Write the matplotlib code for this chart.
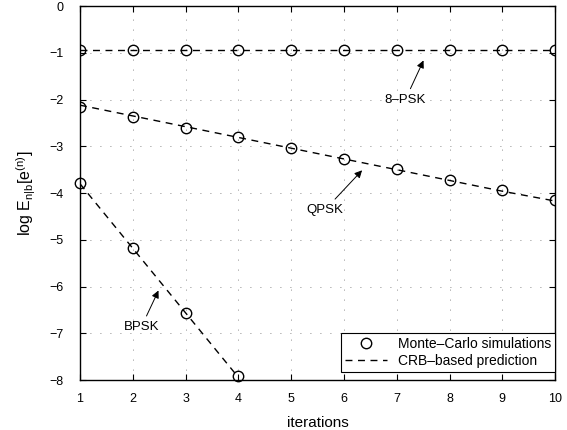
import numpy as np
import matplotlib.pyplot as plt

plt.rcParams['font.family'] = ['Liberation Sans', 'DejaVu Sans']
plt.rcParams['mathtext.fontset'] = 'custom'
plt.rcParams['mathtext.rm'] = 'Liberation Sans'
plt.rcParams['mathtext.it'] = 'Liberation Sans'

# iterations
it_long = [1, 2, 3, 4, 5, 6, 7, 8, 9, 10]
it_bpsk = [1, 2, 3, 4]

# Monte-Carlo simulations (log error)
sim_8psk = [-0.95, -0.95, -0.95, -0.95, -0.95, -0.95, -0.95, -0.95, -0.95, -0.95]
sim_qpsk = [-2.15, -2.38, -2.60, -2.81, -3.04, -3.28, -3.49, -3.72, -3.94, -4.15]
sim_bpsk = [-3.79, -5.18, -6.56, -7.92]

# CRB-based prediction
crb_8psk = [-0.95, -0.95, -0.95, -0.95, -0.95, -0.95, -0.95, -0.95, -0.95, -0.95]
crb_qpsk = [-2.12, -2.35, -2.58, -2.81, -3.04, -3.27, -3.50, -3.73, -3.96, -4.17]
crb_bpsk = [-3.80, -5.18, -6.56, -7.94]

fig = plt.figure(figsize=(5.67, 4.3), dpi=100)
ax = fig.add_axes([0.141, 0.116, 0.838, 0.870])

dash = dict(color='black', lw=1.0, dashes=(5, 4))
mark = dict(ls='none', marker='o', ms=7.5, mfc='none', mec='black', mew=1.0)

ax.plot(it_long, crb_8psk, **dash)
ax.plot(it_long, crb_qpsk, **dash)
ax.plot(it_bpsk, crb_bpsk, **dash)
ax.plot(it_long, sim_8psk, **mark)
ax.plot(it_long, sim_qpsk, **mark)
ax.plot(it_bpsk, sim_bpsk, **mark, clip_on=False)

# legend proxies
h1, = ax.plot([], [], **mark)
h2, = ax.plot([], [], **dash)
leg = ax.legend([h1, h2], ['Monte\u2013Carlo simulations', 'CRB\u2013based prediction'],
                loc='lower right', bbox_to_anchor=(1.0, 0.022), fontsize=10,
                fancybox=False, framealpha=1, edgecolor='black', borderpad=0.3,
                handlelength=3, labelspacing=0.2, borderaxespad=0)
leg.get_frame().set_linewidth(0.8)

arrow = dict(arrowstyle='-|>', color='black', lw=0.7, mutation_scale=11)
ax.annotate('8\u2013PSK', xy=(7.53, -1.11), xytext=(7.16, -2.01),
            ha='center', va='center', fontsize=9.5, arrowprops=arrow)
ax.annotate('QPSK', xy=(6.38, -3.47), xytext=(5.64, -4.36),
            ha='center', va='center', fontsize=9.5, arrowprops=arrow)
ax.annotate('BPSK', xy=(2.51, -6.03), xytext=(2.16, -6.87),
            ha='center', va='center', fontsize=9.5, arrowprops=arrow)

ax.set_xlim(1, 10)
ax.set_ylim(-8, 0)
ax.set_xticks(range(1, 11))
ax.set_yticks(range(-8, 1))
ax.set_yticklabels(['\u22128', '\u22127', '\u22126', '\u22125', '\u22124',
                    '\u22123', '\u22122', '\u22121', '0'])
ax.tick_params(direction='in', top=True, right=True, length=4, labelsize=9)
ax.tick_params(axis='x', pad=9)
ax.tick_params(axis='y', pad=12)
ax.grid(True, color='0.4', lw=0.6, dashes=(1, 11))
for s in ax.spines.values():
    s.set_linewidth(1.0)

ax.set_xlabel('iterations', fontsize=11, labelpad=8)
ax.set_ylabel(r'log E$_{n|b}$[e$^{(n)}$]', fontsize=11.5, labelpad=8)

fig.savefig('out.png', dpi=100)
